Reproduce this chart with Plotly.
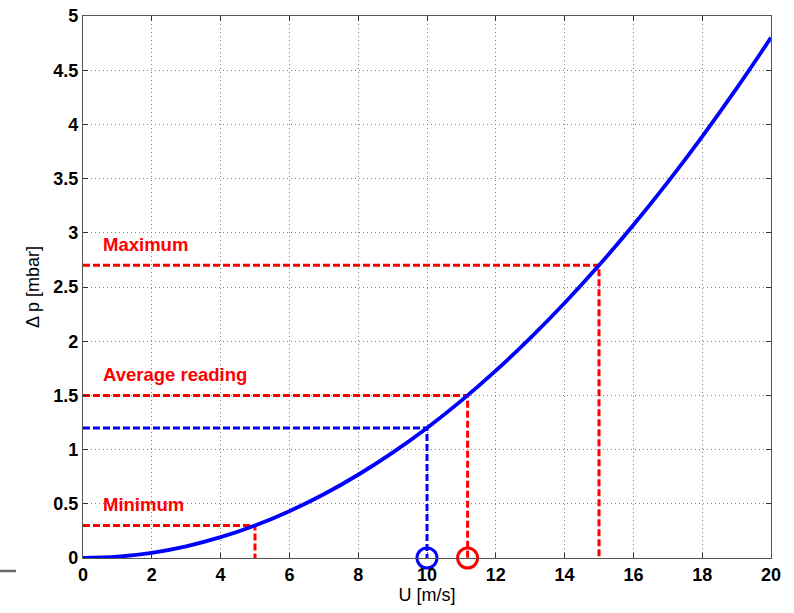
import plotly.graph_objects as go

# Curve: U [m/s] vs delta p [mbar]
U = [0, 1, 2, 3, 4, 5, 6, 7, 8, 9, 10, 11, 12, 13, 14, 15, 16, 17, 18, 19, 20]
dp = [0, 0.012, 0.048, 0.108, 0.192, 0.30, 0.432, 0.588, 0.768, 0.972, 1.20,
      1.452, 1.728, 2.028, 2.352, 2.70, 3.072, 3.468, 3.888, 4.332, 4.80]

# Reference readings
red_U = [5, 11.18, 15]
red_dp = [0.3, 1.5, 2.7]
red_labels = ["Minimum", "Average reading", "Maximum"]
blue_U = [10]
blue_dp = [1.2]
circle_U = [10, 11.18]
circle_colors = ["#0000ff", "#ff0000"]

FONT = "Liberation Sans, Arial"

fig = go.Figure()

def guide(u, p, color):
    fig.add_trace(go.Scatter(x=[0, u, u], y=[p, p, 0], mode="lines",
                             line=dict(color=color, width=3, dash="7px,3px"),
                             showlegend=False, hoverinfo="skip"))

for u, p in zip(red_U, red_dp):
    guide(u, p, "#ff0000")
for u, p in zip(blue_U, blue_dp):
    guide(u, p, "#0000ff")

fig.add_trace(go.Scatter(x=U, y=dp, mode="lines", line=dict(color="#0000ff", width=3.8, shape="spline"),
                         showlegend=False))

fig.add_trace(go.Scatter(x=circle_U, y=[0, 0], mode="markers", cliponaxis=False,
                         marker=dict(symbol="circle-open", size=20, color=circle_colors,
                                     line=dict(width=3, color=circle_colors)),
                         showlegend=False))

for lab, p in zip(red_labels, red_dp):
    fig.add_annotation(x=0.52, y=p + 0.195, text=lab, showarrow=False, xanchor="left", yanchor="middle",
                       font=dict(family=FONT, size=18.5, color="#ff0000", weight="bold"))

axis_common = dict(showline=True, linecolor="#555555", linewidth=1.2, mirror="allticks",
                   ticks="inside", ticklen=5, tickcolor="#333333",
                   showgrid=True, gridcolor="#808080", griddash="1px,3px", gridwidth=1,
                   zeroline=False, automargin=False,
                   tickfont=dict(family=FONT, size=18, color="#000000", weight="bold"))

fig.update_layout(
    width=794, height=613,
    margin=dict(l=83, r=23, t=16, b=55, autoexpand=False),
    plot_bgcolor="white", paper_bgcolor="white",
    xaxis=dict(range=[0, 20], dtick=2, tick0=0,
               title=dict(text="U [m/s]", standoff=2,
                          font=dict(family=FONT, size=18, color="#000000")),
               **axis_common),
    yaxis=dict(range=[0, 5], dtick=0.5, tick0=0,
               title=dict(text="Δ p [mbar]", standoff=8,
                          font=dict(family=FONT, size=18, color="#000000")),
               **axis_common),
)

fig.add_shape(type="line", xref="paper", yref="paper", x0=-83/688, x1=-67/688,
              y0=-13/542, y1=-13/542, line=dict(color="#666666", width=2.5))

fig.write_html("out.html")
